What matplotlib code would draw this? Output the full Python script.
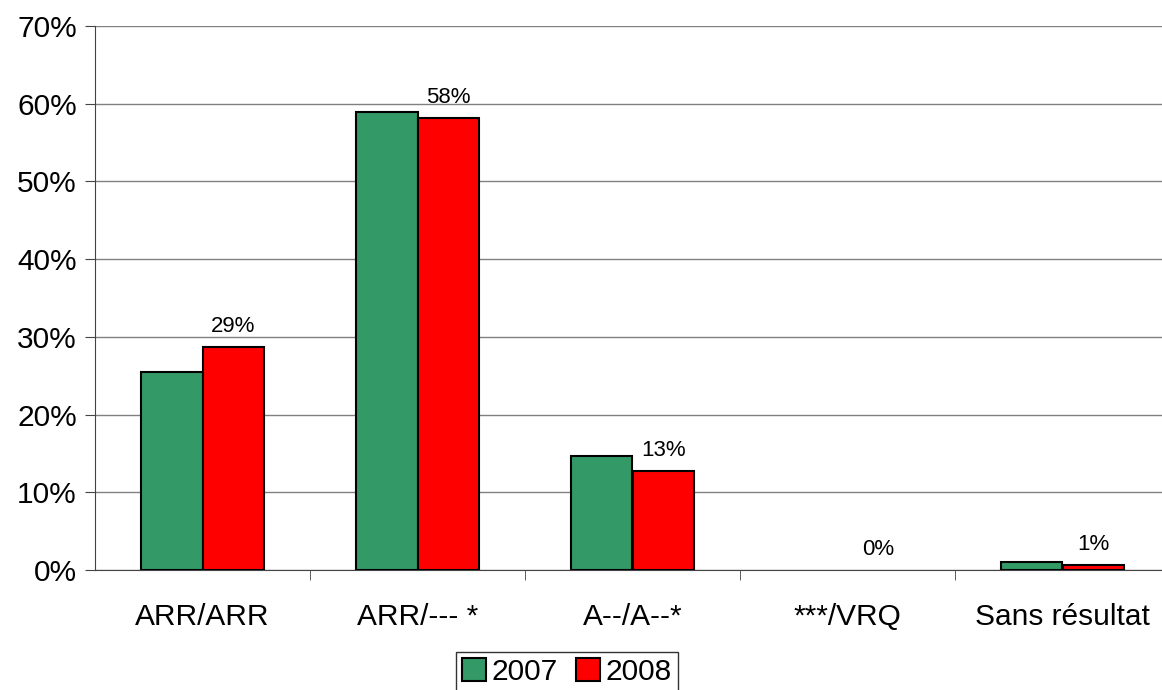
import matplotlib
matplotlib.use("Agg")
import matplotlib.pyplot as plt
import numpy as np

categories = ["ARR/ARR", "ARR/--- *", "A--/A--*", "***/VRQ", "Sans résultat"]
v2007 = [25.5, 58.9, 14.7, 0.0, 1.0]
v2008 = [28.7, 58.1, 12.7, 0.0, 0.6]
labels2008 = ["29%", "58%", "13%", "0%", "1%"]
years = ["2007", "2008"]

plt.rcParams['font.family'] = ['Liberation Sans', 'DejaVu Sans']

fig = plt.figure(figsize=(11.62, 6.9), dpi=100)
ax = fig.add_axes([95/1162, 1-570/690, (1170-95)/1162, (570-26)/690])

x = np.arange(len(categories))
w = 0.288
lw07 = [1.5 if v > 0 else 0 for v in v2007]
lw08 = [1.5 if v > 0 else 0 for v in v2008]
b1 = ax.bar(x - w/2, v2007, w, color='#339966', edgecolor='black', linewidth=lw07, zorder=3, label=years[0])
b2 = ax.bar(x + w/2, v2008, w, color='#FF0000', edgecolor='black', linewidth=lw08, zorder=3, label=years[1])

for xi, v, lab in zip(x, v2008, labels2008):
    ax.annotate(lab, (xi + w/2, v), xytext=(0, 11), textcoords='offset points',
                ha='center', va='baseline', fontsize=16)

ax.set_xlim(-0.5, len(categories) - 0.5)
ax.set_ylim(0, 70)
ax.set_yticks(np.arange(0, 71, 10))
ax.set_yticklabels([f"{t}%" for t in range(0, 71, 10)], fontsize=21.5)
ax.yaxis.grid(True, color='#808080', linewidth=1, zorder=0)
ax.set_xticks(x)
ax.set_xticklabels(categories, fontsize=21.5)
ax.tick_params(axis='x', length=0, pad=24)
ax.set_xticks(np.arange(0.5, len(categories) - 0.5, 1), minor=True)
ax.tick_params(axis='x', which='minor', length=7, direction='out', color='#444444')
ax.tick_params(axis='y', length=7, direction='out', color='#444444', pad=6)

for s in ['top', 'right']:
    ax.spines[s].set_visible(False)
ax.spines['left'].set_color('#444444')
ax.spines['bottom'].set_color('#444444')

leg = fig.legend(handles=[b1, b2], labels=years, loc='upper center', bbox_to_anchor=(0.488, 1-652/690),
                 ncol=2, fontsize=21.5, frameon=True, fancybox=False, edgecolor='black',
                 handlelength=0.8, handleheight=0.8, handletextpad=0.2, columnspacing=0.6,
                 borderpad=0.2, borderaxespad=0)
leg.get_frame().set_linewidth(1)
for h in leg.legend_handles:
    h.set_linewidth(1.5)

fig.savefig("out.png", dpi=100, facecolor='white')
